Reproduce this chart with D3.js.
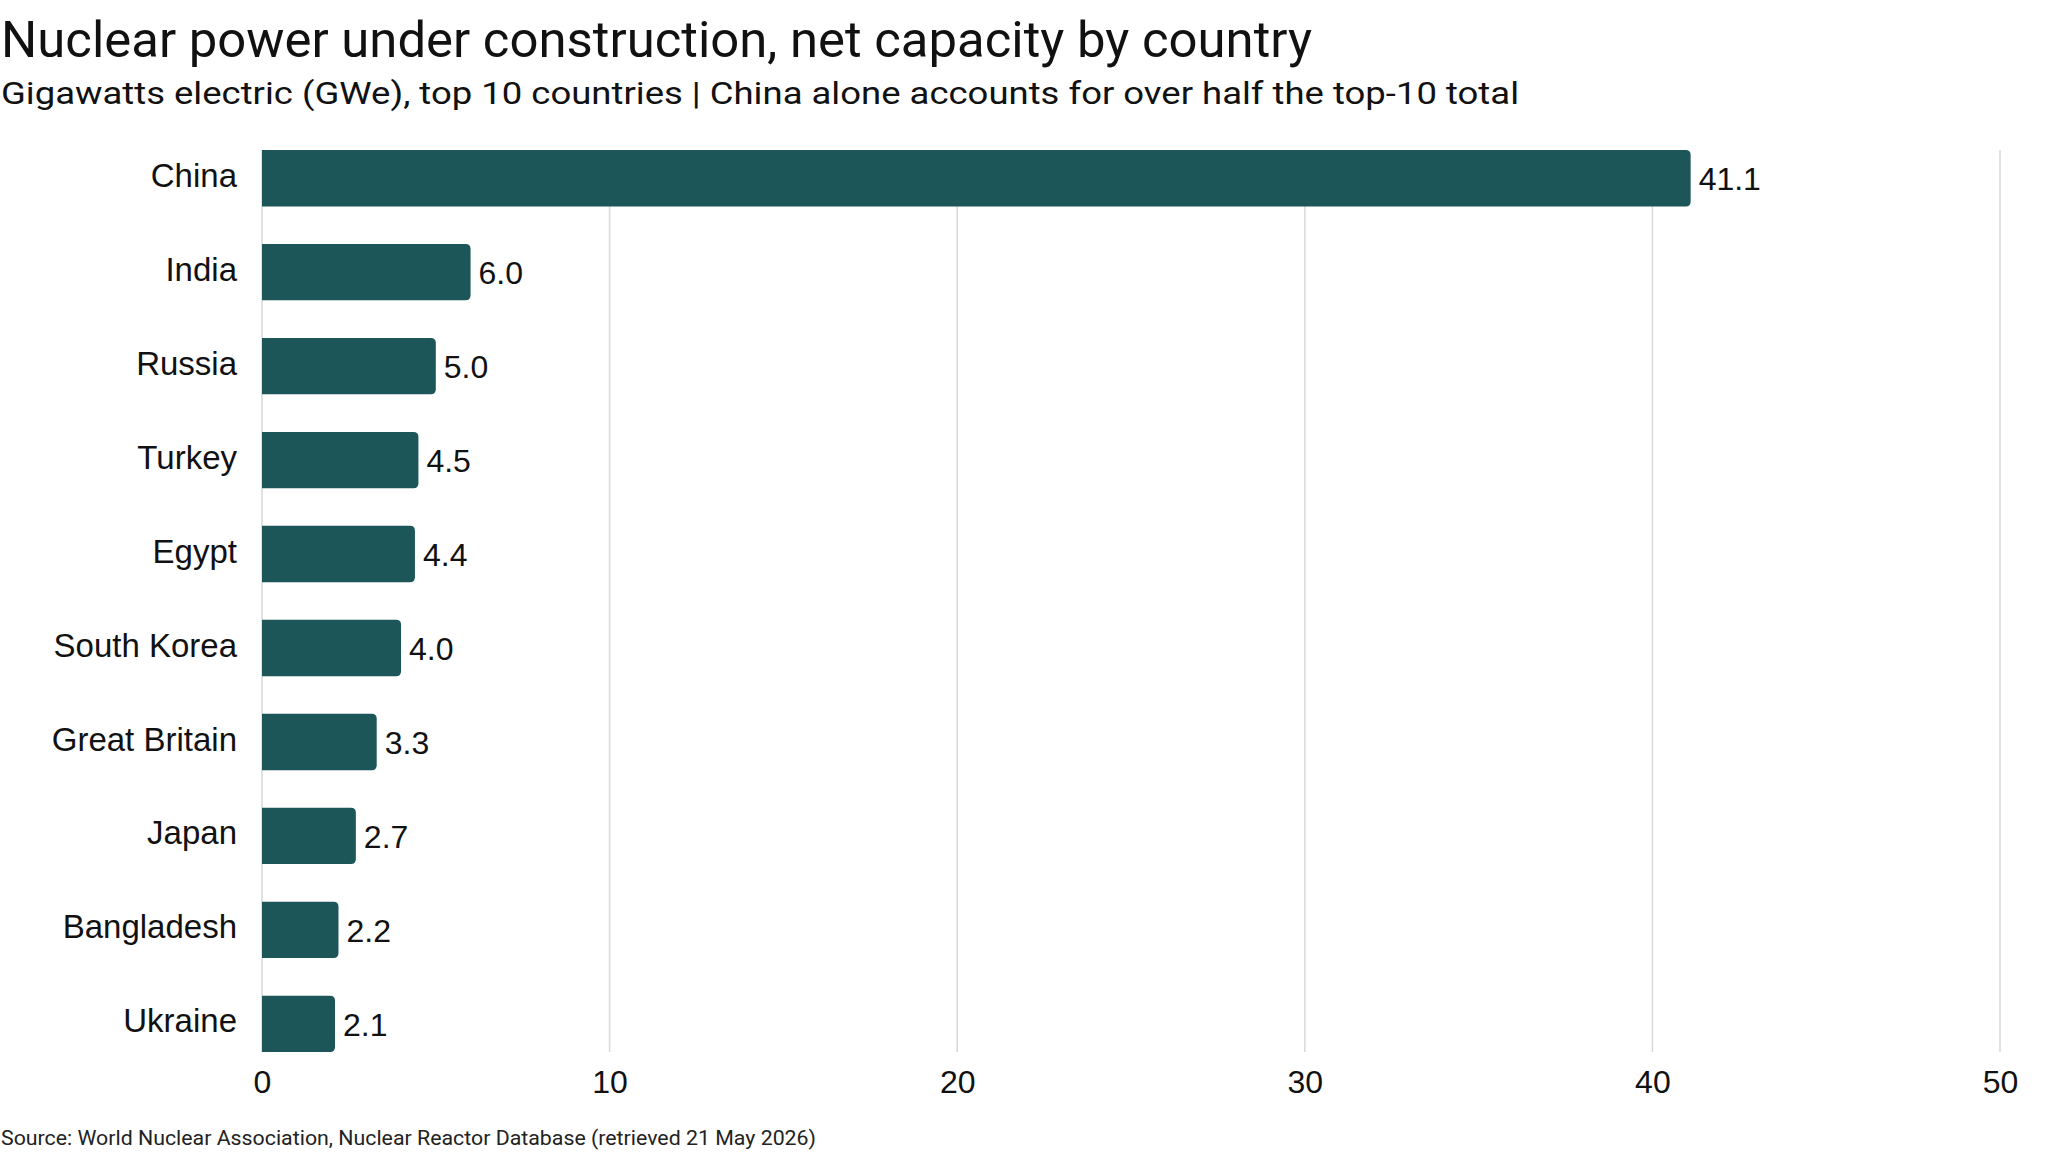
<!DOCTYPE html>
<html>
<head>
<meta charset="utf-8">
<script src="https://cdn.jsdelivr.net/npm/d3@7"></script>
<style>
  html, body { margin: 0; padding: 0; background: #fff; overflow: hidden; }
</style>
</head>
<body>
<script>
const countries = ['China', 'India', 'Russia', 'Turkey', 'Egypt', 'South Korea', 'Great Britain', 'Japan', 'Bangladesh', 'Ukraine']
const capacityGWe = [41.1, 6.0, 5.0, 4.5, 4.4, 4.0, 3.3, 2.7, 2.2, 2.1]
const xTicks = [0, 10, 20, 30, 40, 50]

const titleText = 'Nuclear power under construction, net capacity by country'
const subtitleText = 'Gigawatts electric (GWe), top 10 countries | China alone accounts for over half the top-10 total'
const sourceText = 'Source: World Nuclear Association, Nuclear Reactor Database (retrieved 21 May 2026)'

const width = 2048
const height = 1152
const barColor = '#1c5659'
const gridColor = '#d9d9d9'
const headFont = 'Roboto, "Noto Sans", sans-serif'
const chartFont = '"Liberation Sans", Arial, sans-serif'

const rows = countries.map((c, i) => ({ country: c, value: capacityGWe[i] }))

const svg = d3.select('body').append('svg')
    .attr('width', width)
    .attr('height', height)

// header
svg.append('text')
    .attr('x', 1)
    .attr('y', 57)
    .attr('font-family', headFont)
    .attr('font-size', 50)
    .attr('fill', '#111')
    .attr('textLength', 1311)
    .attr('lengthAdjust', 'spacingAndGlyphs')
    .text(titleText)

svg.append('text')
    .attr('x', 1)
    .attr('y', 104)
    .attr('font-family', headFont)
    .attr('font-size', 32)
    .attr('fill', '#111')
    .attr('textLength', 1518)
    .attr('lengthAdjust', 'spacingAndGlyphs')
    .text(subtitleText)

const x = d3.scaleLinear()
    .domain([0, 50])
    .range([262, 2000])

const y = d3.scaleBand()
    .domain(countries)
    .range([150, 1052])
    .paddingInner(0.4)
    .paddingOuter(0)

// gridlines
svg.append('g')
    .selectAll('line')
    .data(xTicks)
    .enter().append('line')
    .attr('x1', d => x(d))
    .attr('x2', d => x(d))
    .attr('y1', 150)
    .attr('y2', 1052)
    .attr('stroke', gridColor)
    .attr('stroke-width', 1.5)

// bars: square at the baseline, rounded at the end
const r = 5
const barPath = d => {
    const x0 = x(0), x1 = x(d.value)
    const y0 = y(d.country), h = y.bandwidth()
    return `M${x0},${y0}H${x1 - r}Q${x1},${y0} ${x1},${y0 + r}` +
        `V${y0 + h - r}Q${x1},${y0 + h} ${x1 - r},${y0 + h}H${x0}Z`
}

svg.append('g')
    .selectAll('path')
    .data(rows)
    .enter().append('path')
    .attr('d', barPath)
    .attr('fill', barColor)

// value labels
svg.append('g')
    .selectAll('text')
    .data(rows)
    .enter().append('text')
    .attr('x', d => x(d.value) + 8)
    .attr('y', d => y(d.country) + y.bandwidth() / 2 + 1)
    .attr('dy', '0.35em')
    .attr('font-family', chartFont)
    .attr('font-size', 32)
    .attr('fill', '#111')
    .text(d => d3.format('.1f')(d.value))

// category axis
const yAxis = svg.append('g')
    .attr('transform', `translate(${x(0)},0)`)
    .call(d3.axisLeft(y).tickSize(0).tickPadding(25))
yAxis.select('.domain').remove()
yAxis.selectAll('text')
    .attr('font-family', chartFont)
    .attr('font-size', 33)
    .attr('fill', '#111')
    .attr('dy', '0.26em')

// value axis
const xAxis = svg.append('g')
    .attr('transform', 'translate(0,1052)')
    .call(d3.axisBottom(x).tickValues(xTicks).tickSize(0).tickPadding(18))
xAxis.select('.domain').remove()
xAxis.selectAll('text')
    .attr('font-family', chartFont)
    .attr('font-size', 32)
    .attr('fill', '#111')

// source
svg.append('text')
    .attr('x', 1)
    .attr('y', 1145)
    .attr('font-family', headFont)
    .attr('font-size', 21)
    .attr('fill', '#222')
    .attr('textLength', 815)
    .attr('lengthAdjust', 'spacingAndGlyphs')
    .text(sourceText)
</script>
</body>
</html>
